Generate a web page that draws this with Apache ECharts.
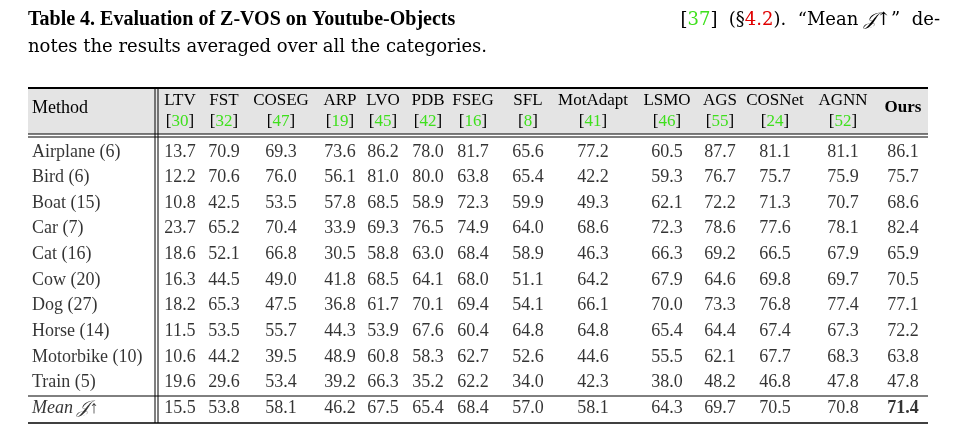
<!DOCTYPE html>
<html><head><meta charset="utf-8">
<script src="https://cdn.jsdelivr.net/npm/echarts@6/dist/echarts.min.js"></script>
<style>html,body{margin:0;background:#fff}#c{width:962px;height:435px}</style>
</head><body><div id="c"></div>
<script>
const methods = ["LTV","FST","COSEG","ARP","LVO","PDB","FSEG","SFL","MotAdapt","LSMO","AGS","COSNet","AGNN","Ours"];
const refs = ["30","32","47","19","45","42","16","8","41","46","55","24","52",""];
const categories = ["Airplane (6)","Bird (6)","Boat (15)","Car (7)","Cat (16)","Cow (20)","Dog (27)","Horse (14)","Motorbike (10)","Train (5)","Mean 𝒥↑"];
const values = [
 [13.7,70.9,69.3,73.6,86.2,78.0,81.7,65.6,77.2,60.5,87.7,81.1,81.1,86.1],
 [12.2,70.6,76.0,56.1,81.0,80.0,63.8,65.4,42.2,59.3,76.7,75.7,75.9,75.7],
 [10.8,42.5,53.5,57.8,68.5,58.9,72.3,59.9,49.3,62.1,72.2,71.3,70.7,68.6],
 [23.7,65.2,70.4,33.9,69.3,76.5,74.9,64.0,68.6,72.3,78.6,77.6,78.1,82.4],
 [18.6,52.1,66.8,30.5,58.8,63.0,68.4,58.9,46.3,66.3,69.2,66.5,67.9,65.9],
 [16.3,44.5,49.0,41.8,68.5,64.1,68.0,51.1,64.2,67.9,64.6,69.8,69.7,70.5],
 [18.2,65.3,47.5,36.8,61.7,70.1,69.4,54.1,66.1,70.0,73.3,76.8,77.4,77.1],
 [11.5,53.5,55.7,44.3,53.9,67.6,60.4,64.8,64.8,65.4,64.4,67.4,67.3,72.2],
 [10.6,44.2,39.5,48.9,60.8,58.3,62.7,52.6,44.6,55.5,62.1,67.7,68.3,63.8],
 [19.6,29.6,53.4,39.2,66.3,35.2,62.2,34.0,42.3,38.0,48.2,46.8,47.8,47.8],
 [15.5,53.8,58.1,46.2,67.5,65.4,68.4,57.0,58.1,64.3,69.7,70.5,70.8,71.4]
];
// layout: column centres in pixels
const colX = [180,224,281,340,383,428,473,528,593,667,720,775,843,903];
const FONT = '"Liberation Serif", "DejaVu Serif", serif';
const TFONT = '"DejaVu Serif", serif';
const GREEN = '#3ee01c';

const cells = [];
values.forEach((row,r)=>row.forEach((v,c)=>{
  const mean = r===values.length-1;
  cells.push({value:[colX[c], r, v.toFixed(1)],
    label:{fontWeight:(mean && c===13)?'bold':'normal'}});
}));
const names = categories.map((n,r)=>({value:[32, r, n],
  label:{fontStyle:r===categories.length-1?'italic':'normal', align:'left'}}));

const chart = echarts.init(document.getElementById('c'));
chart.setOption({
  animation:false,
  grid:{left:0,right:0,top:139,bottom:14},
  xAxis:{type:'value',min:0,max:962,show:false},
  yAxis:{type:'category',inverse:true,data:categories,show:false},
  series:[
    {type:'scatter',symbolSize:0,data:cells,
     label:{show:true,position:'inside',formatter:p=>p.value[2],color:'#000',fontSize:18,fontFamily:FONT}},
    {type:'scatter',symbolSize:0,data:names,
     label:{show:true,position:'inside',align:'left',formatter:p=>p.value[2],color:'#000',fontSize:18,fontFamily:FONT}}
  ]
});

const g = [];
g.push({type:'rect',shape:{x:28,y:88,width:900,height:46},style:{fill:'#e4e4e4'},z:0});
const hl=(y,w)=>g.push({type:'line',shape:{x1:28,y1:y,x2:928,y2:y},style:{stroke:'#000',lineWidth:w},z:5});
hl(88,2); hl(134,1.2); hl(137,1); hl(396,1); hl(423,1.5);
g.push({type:'line',shape:{x1:155,y1:88,x2:155,y2:423},style:{stroke:'#000',lineWidth:1},z:5});
g.push({type:'line',shape:{x1:158,y1:88,x2:158,y2:423},style:{stroke:'#000',lineWidth:1},z:5});
g.push({type:'text',x:32,y:108,style:{text:'Method',font:'18px '+FONT,fill:'#000',verticalAlign:'middle'},z:6});
methods.forEach((m,i)=>{
  const x = chart.convertToPixel({seriesIndex:0},[colX[i],0])[0];
  if(m==='Ours'){
    g.push({type:'text',x:x,y:108,style:{text:m,font:'bold 17px '+FONT,fill:'#000',align:'center',verticalAlign:'middle'},z:6});
  } else {
    g.push({type:'text',x:x,y:101,style:{text:m,font:'17px '+FONT,fill:'#000',align:'center',verticalAlign:'middle'},z:6});
    g.push({type:'text',x:x,y:122,style:{text:'{b|[}{g|'+refs[i]+'}{b|]}',align:'center',verticalAlign:'middle',
      rich:{b:{font:'17px '+FONT,fill:'#000'},g:{font:'17px '+FONT,fill:GREEN}}},z:6});
  }
});
g.push({type:'text',x:28,y:20,style:{verticalAlign:'middle',
  text:'{t|Table 4. Evaluation of Z-VOS on Youtube-Objects}',
  rich:{t:{font:'bold 20px '+FONT,fill:'#000'}}}});
g.push({type:'text',x:940,y:20,style:{verticalAlign:'middle',align:'right',
  text:'{n|[}{g|37}{n|]  (§}{r|4.2}{n|).  “Mean }{i|𝒥}{n|↑”  de-}',
  rich:{n:{font:'18px '+TFONT,fill:'#000'},g:{font:'18px '+TFONT,fill:GREEN},
        r:{font:'18px '+TFONT,fill:'#e00000'},i:{font:'italic 18px '+TFONT,fill:'#000'}}}});
g.push({type:'text',x:28,y:47,style:{verticalAlign:'middle',text:'notes the results averaged over all the categories.',font:'18px '+TFONT,fill:'#000'}});
chart.setOption({graphic:g});
</script></body></html>
